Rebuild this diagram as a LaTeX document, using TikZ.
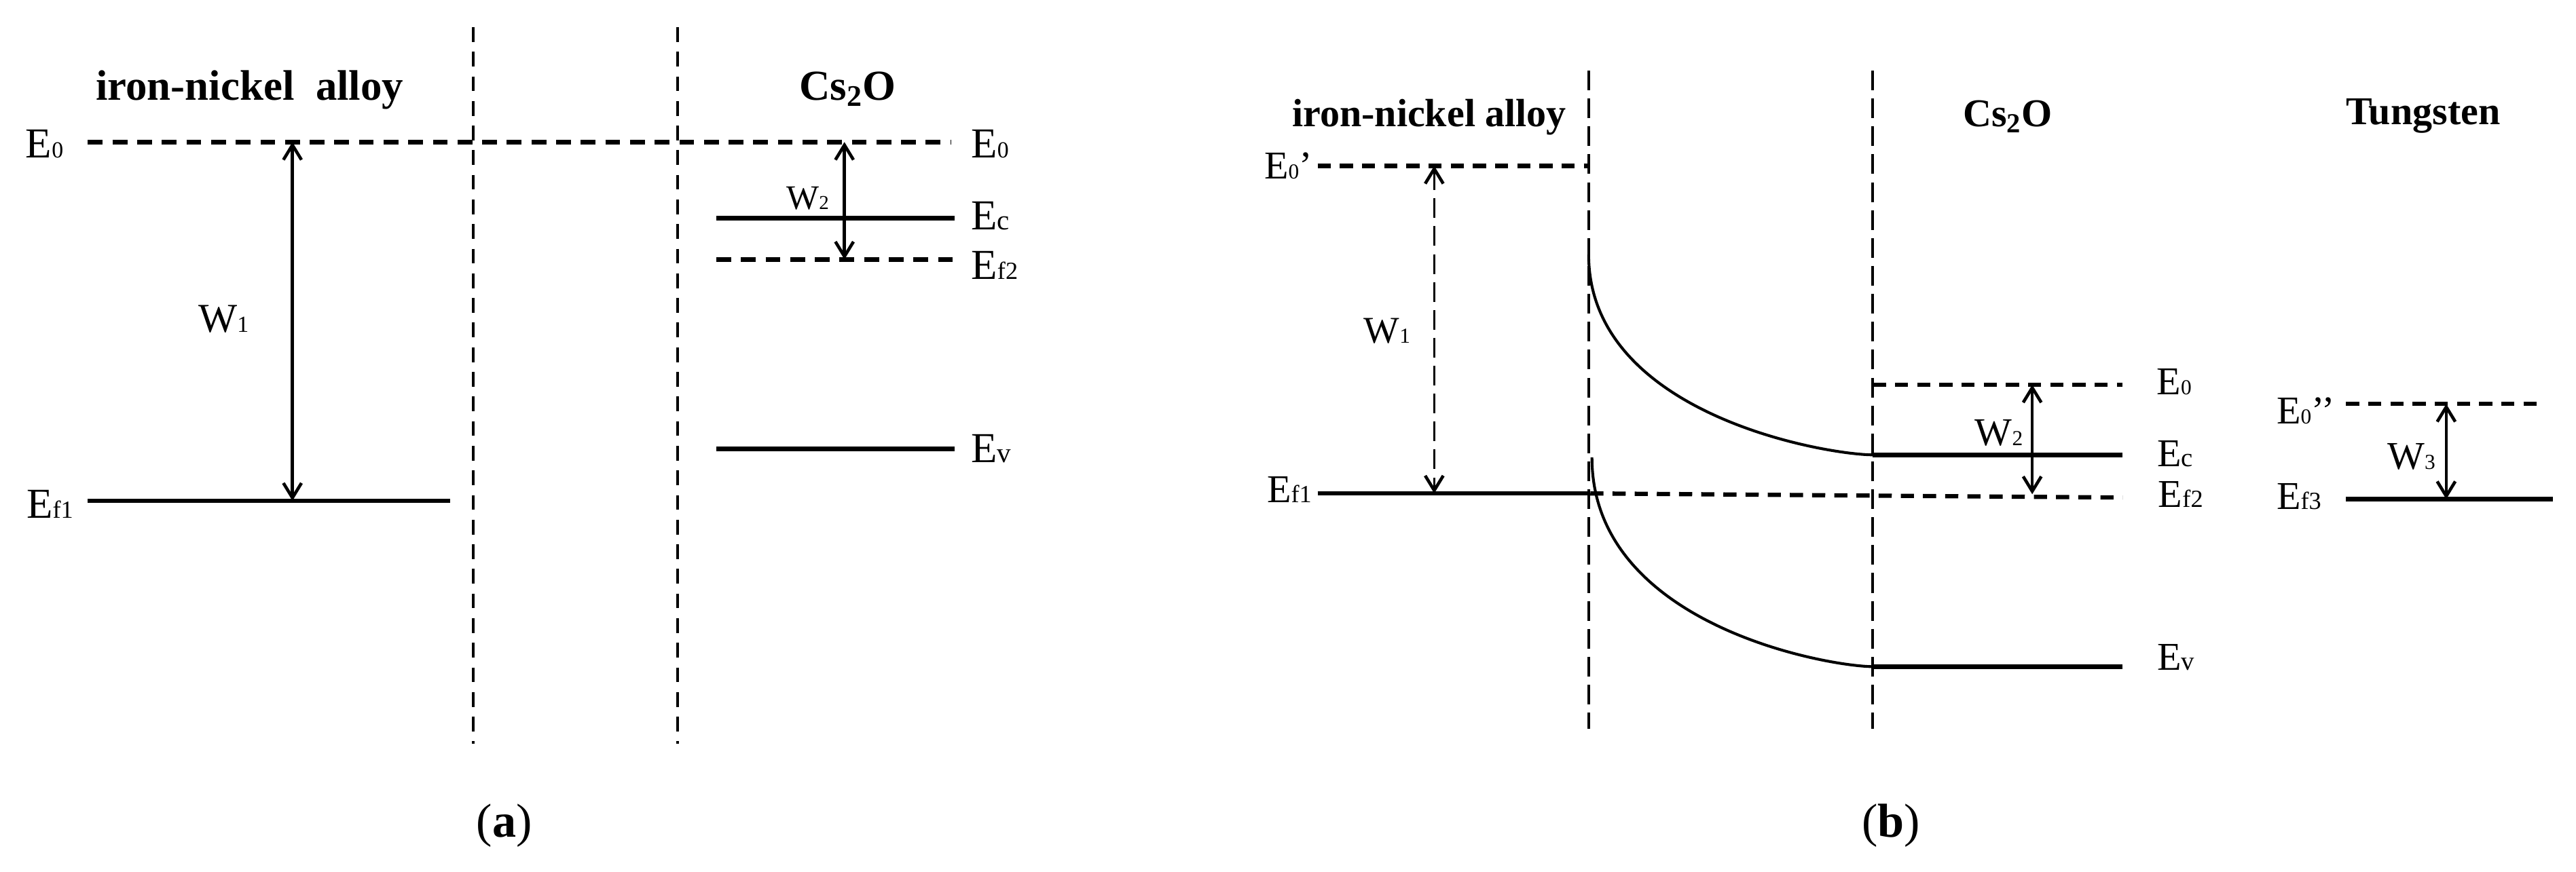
\documentclass[tikz,border=0pt]{standalone}
\usepackage{fontspec}
\setmainfont{Liberation Serif}
\usetikzlibrary{arrows.meta}
\newcommand{\fsz}[1]{\fontsize{#1pt}{#1pt}\selectfont}
% level label: size of E, size of index, index text
\newcommand{\lv}[4]{{\fsz{#1}#2\fsz{#3}#4}}
\tikzset{
  levelsolid/.style={line width=2.75pt},
  leveldash/.style={line width=2.75pt, dash pattern=on 9pt off 6pt},
  leveldashb/.style={line width=2.6pt, dash pattern=on 8pt off 5.5pt},
  sepline/.style={line width=1.6pt, dash pattern=on 9pt off 6pt},
  seplineb/.style={line width=1.6pt, dash pattern=on 12pt off 5pt},
  workarrow/.style={line width=1.9pt, {Straight Barb[length=9pt,width=11pt,line width=1.9pt]}-{Straight Barb[length=9pt,width=11pt,line width=1.9pt]}},
  bandcurve/.style={line width=1.7pt},
  elabel/.style={inner sep=0pt, anchor=base west},
  titletext/.style={inner sep=0pt, anchor=base, font=\bfseries},
  captiontext/.style={inner sep=0pt, anchor=center}
}
\begin{document}
\begin{tikzpicture}[x=1pt,y=-1pt]
\useasboundingbox (0,0) rectangle (1568,531);

%%%%%%%%%%%%%%%% panel (a)
\draw[sepline] (288,16.5) -- (288,453);
\draw[sepline] (412.5,16.5) -- (412.5,453);

\coordinate (aE0l) at (53.5,86.5);  \coordinate (aE0r) at (579,86.5);
\coordinate (aEf1l) at (53.5,305);  \coordinate (aEf1r) at (274,305);
\coordinate (aEcl) at (436,133);    \coordinate (aEcr) at (581,133);
\coordinate (aEf2l) at (436,158);   \coordinate (aEf2r) at (581,158);
\coordinate (aEvl) at (436,273.5);  \coordinate (aEvr) at (581,273.5);

\draw[leveldash] (aE0l) -- (aE0r);
\draw[levelsolid] (aEf1l) -- (aEf1r);
\draw[levelsolid] (aEcl) -- (aEcr);
\draw[leveldash] (aEf2l) -- (aEf2r);
\draw[levelsolid] (aEvl) -- (aEvr);

\coordinate (aW1t) at (178,86.5); \coordinate (aW1b) at (178,305);
\coordinate (aW2t) at (514,86.5); \coordinate (aW2b) at (514,158);
\draw[workarrow] (aW1t) -- (aW1b);
\draw[workarrow] (aW2t) -- (aW2b);

\node[titletext, font=\bfseries\fsz{26}] (atitle1) at (152,61) {iron-nickel\ \ alloy};
\node[titletext, font=\bfseries\fsz{26}] (atitle2) at (516,61) {Cs\textsubscript{2}O};

\node[elabel] (laE0l) at (15.5,96) {\lv{26}{E}{14}{0}};
\node[elabel] (laEf1) at (16,315.5) {\lv{26}{E}{15}{f1}};
\node[elabel] (laE0r) at (591,96) {\lv{26}{E}{14}{0}};
\node[elabel] (laEc) at (591,140) {\lv{26}{E}{17}{c}};
\node[elabel] (laEf2) at (591,170) {\lv{26}{E}{15}{f2}};
\node[elabel] (laEv) at (591,281.5) {\lv{26}{E}{17}{v}};
\node[elabel] (laW1) at (120.6,202.5) {\lv{25}{W}{14}{1}};
\node[elabel] (laW2) at (478.5,127.6) {\lv{21}{W}{12}{2}};

\node[captiontext] (capa) at (307,503) {\fsz{29}(\textbf{a})};

%%%%%%%%%%%%%%%% panel (b)
\draw[seplineb] (967,43) -- (967,444);
\draw[seplineb] (1140,43) -- (1140,444);

\coordinate (bE0pl) at (802,101);   \coordinate (bE0pr) at (967,101);
\coordinate (bEf1l) at (802,300.5); \coordinate (bEf1r) at (968,300.5);
\coordinate (bEf2l) at (968,300.5); \coordinate (bEf2r) at (1292,303);
\coordinate (bE0l) at (1140,234.3); \coordinate (bE0r) at (1292,234.3);
\coordinate (bEcs) at (967,155);    \coordinate (bEcl) at (1140,277);  \coordinate (bEcr) at (1292,277);
\coordinate (bEvs) at (969,278.6);  \coordinate (bEvl) at (1140.6,406); \coordinate (bEvr) at (1292,406);
\coordinate (bE0ppl) at (1428,246); \coordinate (bE0ppr) at (1549,246);
\coordinate (bEf3l) at (1428,304);  \coordinate (bEf3r) at (1554,304);

\draw[leveldashb] (bE0pl) -- (bE0pr);
\draw[levelsolid] (bEf1l) -- (bEf1r);
\draw[leveldashb] (bEf2l) -- (bEf2r);
\draw[leveldashb] (bE0l) -- (bE0r);
\draw[bandcurve] (bEcs) .. controls (967,252.6) and (1112,277) .. (bEcl);
\draw[levelsolid] (bEcl) -- (bEcr);
\draw[bandcurve] (bEvs) .. controls (969,380.6) and (1112.6,406) .. (bEvl);
\draw[levelsolid] (bEvl) -- (bEvr);
\draw[leveldashb] (bE0ppl) -- (bE0ppr);
\draw[levelsolid] (bEf3l) -- (bEf3r);

\coordinate (bW1t) at (873,101);    \coordinate (bW1b) at (873,300.5);
\coordinate (bW2t) at (1237,234.3); \coordinate (bW2b) at (1237,301);
\coordinate (bW3t) at (1489,246);   \coordinate (bW3b) at (1489,304);
\draw[workarrow, line width=1.5pt, dash pattern=on 12pt off 5pt] (bW1t) -- (bW1b);
\draw[workarrow] (bW2t) -- (bW2b);
\draw[workarrow] (bW3t) -- (bW3b);

\node[titletext, font=\bfseries\fsz{24}] (btitle1) at (870,77) {iron-nickel alloy};
\node[titletext, font=\bfseries\fsz{24}] (btitle2) at (1222,77) {Cs\textsubscript{2}O};
\node[titletext, font=\bfseries\fsz{24}] (btitle3) at (1475,76) {Tungsten};

\node[elabel] (lbE0p) at (769.4,109) {\lv{24}{E}{13}{0}\fsz{24}’};
\node[elabel] (lbEf1) at (771,306) {\lv{24}{E}{15}{f1}};
\node[elabel] (lbW1) at (830,209) {\lv{23}{W}{13}{1}};
\node[elabel] (lbE0) at (1312.6,240.4) {\lv{24}{E}{13}{0}};
\node[elabel] (lbEc) at (1313,284) {\lv{24}{E}{16}{c}};
\node[elabel] (lbEf2) at (1313.6,309) {\lv{24}{E}{15}{f2}};
\node[elabel] (lbEv) at (1313,408.3) {\lv{24}{E}{16}{v}};
\node[elabel] (lbW2) at (1202,271.4) {\lv{24}{W}{13}{2}};
\node[elabel] (lbE0pp) at (1385.6,258) {\lv{24}{E}{13}{0}\fsz{24}’’};
\node[elabel] (lbW3) at (1453,285.9) {\lv{24}{W}{13}{3}};
\node[elabel] (lbEf3) at (1385.6,310) {\lv{24}{E}{15}{f3}};

\node[captiontext] (capb) at (1151,503) {\fsz{29}(\textbf{b})};
\end{tikzpicture}
\end{document}
